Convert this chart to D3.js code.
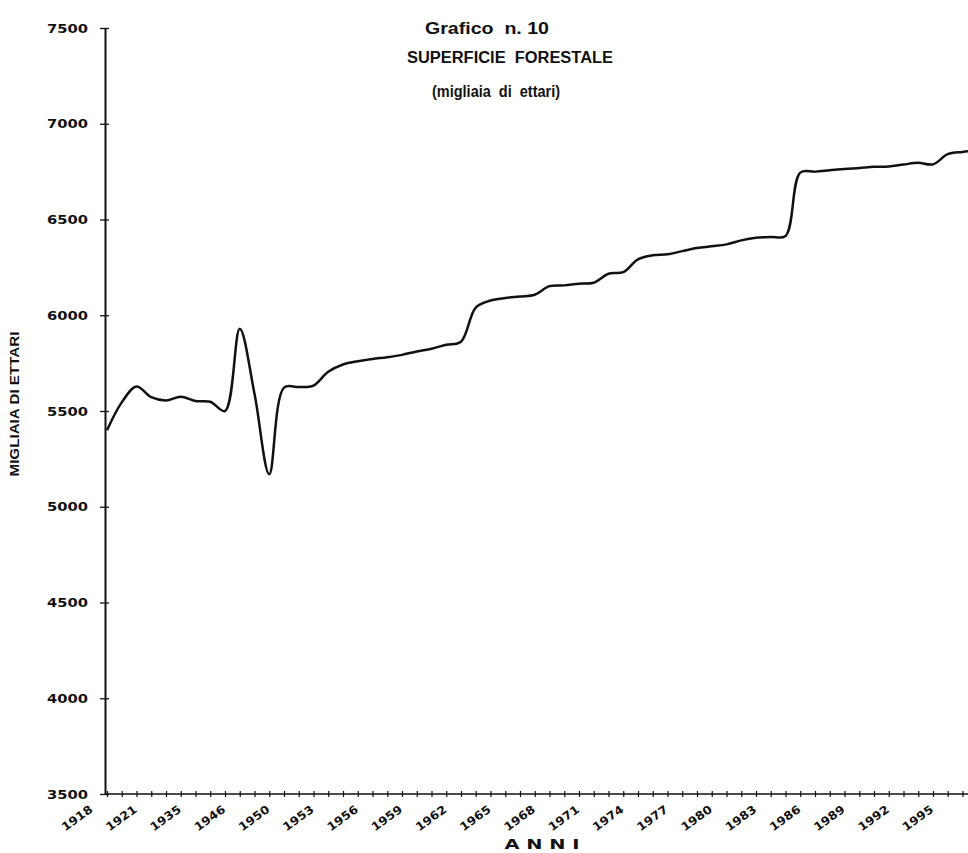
<!DOCTYPE html>
<html>
<head>
<meta charset="utf-8">
<script src="https://cdn.jsdelivr.net/npm/d3@7"></script>
<style>
	body { margin: 0; background: #fff; }
	svg { display: block; }
	.axis-label { font-family: "DejaVu Sans", sans-serif; font-weight: bold; fill: #111; }
	.title { font-family: "Liberation Sans", Arial, sans-serif; font-weight: bold; fill: #111; white-space: pre; }
</style>
</head>
<body>
<div id="chart"></div>
<script>
// years on the category axis (not evenly spaced before 1950)
var anni = ["1918", "1919", "1920", "1921", "1925", "1930", "1935", "1940", "1945", "1946",
	"1947", "1949", "1950", "1951", "1952", "1953", "1954", "1955", "1956", "1957",
	"1958", "1959", "1960", "1961", "1962", "1963", "1964", "1965", "1966", "1967",
	"1968", "1969", "1970", "1971", "1972", "1973", "1974", "1975", "1976", "1977",
	"1978", "1979", "1980", "1981", "1982", "1983", "1984", "1985", "1986", "1987",
	"1988", "1989", "1990", "1991", "1992", "1993", "1994", "1995", "1996", "1997"];

// forest surface, thousands of hectares
var superficie = [5400, 5545, 5628, 5572, 5555, 5575, 5552, 5548, 5500, 5930,
	5590, 5170, 5622, 5625, 5633, 5705, 5743, 5760, 5772, 5781,
	5793, 5811, 5825, 5846, 5862, 6040, 6077, 6090, 6098, 6107,
	6152, 6156, 6165, 6170, 6217, 6225, 6292, 6313, 6318, 6335,
	6351, 6360, 6370, 6391, 6405, 6409, 6414, 6745, 6750, 6757,
	6764, 6769, 6775, 6777, 6787, 6796, 6788, 6841, 6853, 6860];

// every third year is labelled
var anniEtichette = ["1918", "1921", "1935", "1946", "1950", "1953", "1956", "1959", "1962", "1965",
	"1968", "1971", "1974", "1977", "1980", "1983", "1986", "1989", "1992", "1995"];

var yTicks = [3500, 4000, 4500, 5000, 5500, 6000, 6500, 7000, 7500];

var titoli = ["Grafico  n. 10", "SUPERFICIE  FORESTALE", "(migliaia  di  ettari)"];

var fullWidth = 968,
	fullHeight = 853;

var plot = {left: 105, top: 28, bottom: 794, step: 14.75};

var data = anni.map(function(a, i) { return {anno: a, valore: superficie[i]}; });

var xScale = d3.scalePoint()
	.domain(anni)
	.range([plot.left + 2, plot.left + 2 + plot.step * (anni.length - 1)]);

var yScale = d3.scaleLinear()
	.domain([3500, 7500])
	.range([plot.bottom, plot.top]);

var svg = d3.select("#chart").append("svg")
	.attr("width", fullWidth)
	.attr("height", fullHeight);

// titles (the scanned original spreads them unevenly)
var titlePos = [{x: 487, y: 33.5, w: 124, s: 17}, {x: 510, y: 62.5, w: 206, s: 16}, {x: 496, y: 97, w: 128, s: 16}];
svg.selectAll(".title")
	.data(titoli)
	.enter().append("text")
	.attr("class", "title")
	.attr("x", function(d, i) { return titlePos[i].x; })
	.attr("y", function(d, i) { return titlePos[i].y; })
	.attr("text-anchor", "middle")
	.attr("textLength", function(d, i) { return titlePos[i].w; })
	.attr("lengthAdjust", "spacingAndGlyphs")
	.style("font-size", function(d, i) { return titlePos[i].s + "px"; })
	.text(function(d) { return d; });

// Y axis
var yAxis = d3.axisLeft(yScale)
	.tickValues(yTicks)
	.tickSize(5)
	.tickSizeOuter(0)
	.tickFormat(d3.format("d"));

var gy = svg.append("g")
	.attr("class", "y axis")
	.attr("transform", "translate(" + plot.left + ",0)")
	.call(yAxis);

gy.select(".domain").attr("stroke", "#111").attr("stroke-width", 2);
gy.selectAll(".tick line").attr("x1", 4).attr("stroke", "#111").attr("stroke-width", 1.3);
gy.selectAll(".tick text")
	.attr("class", "axis-label")
	.attr("x", -17)
	.attr("dy", "0.36em")
	.attr("textLength", 41)
	.attr("lengthAdjust", "spacingAndGlyphs")
	.style("font-size", "11.5px");

// X axis
var xAxis = d3.axisBottom(xScale)
	.tickSize(3)
	.tickSizeOuter(0)
	.tickFormat(function(d) { return anniEtichette.indexOf(d) >= 0 ? d : ""; });

var gx = svg.append("g")
	.attr("class", "x axis")
	.attr("transform", "translate(0," + plot.bottom + ")")
	.call(xAxis);

gx.select(".domain").attr("d", "M" + plot.left + ",0H" + (fullWidth + 20))
	.attr("stroke", "#111").attr("stroke-width", 1.6);
gx.selectAll(".tick line").attr("y1", -3).attr("stroke", "#111").attr("stroke-width", 1.2);
gx.selectAll(".tick text")
	.attr("class", "axis-label")
	.attr("x", 0)
	.attr("y", 0)
	.attr("dy", 0)
	.attr("text-anchor", "end")
	.attr("transform", "translate(-14,17) rotate(-36)")
	.attr("textLength", function() { return this.textContent ? 35 : null; })
	.attr("lengthAdjust", "spacingAndGlyphs")
	.style("font-size", "11.5px");

// axis titles
svg.append("text")
	.attr("class", "axis-label")
	.attr("transform", "translate(19,404) rotate(-90)")
	.attr("text-anchor", "middle")
	.attr("textLength", 145)
	.attr("lengthAdjust", "spacingAndGlyphs")
	.style("font-family", "'Liberation Sans', Arial, sans-serif")
	.style("font-size", "13px")
	.text("MIGLIAIA DI ETTARI");

svg.append("text")
	.attr("class", "axis-label")
	.attr("x", 542)
	.attr("y", 849)
	.attr("text-anchor", "middle")
	.attr("textLength", 75)
	.attr("lengthAdjust", "spacingAndGlyphs")
	.style("font-size", "14px")
	.text("A N N I");

// the smoothed line
var line = d3.line()
	.x(function(d) { return xScale(d.anno); })
	.y(function(d) { return yScale(d.valore); })
	.curve(d3.curveCatmullRom.alpha(0.5));

svg.append("path")
	.datum(data)
	.attr("class", "line")
	.attr("fill", "none")
	.attr("stroke", "#111")
	.attr("stroke-width", 2.5)
	.attr("stroke-linejoin", "round")
	.attr("d", line);
</script>
</body>
</html>
